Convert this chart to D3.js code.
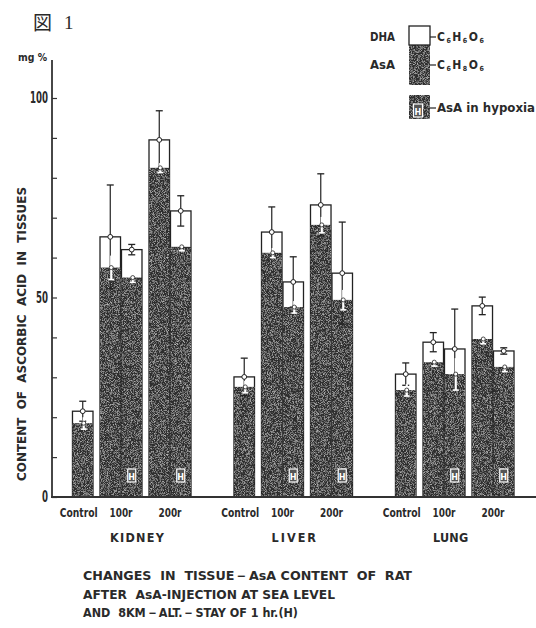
<!DOCTYPE html>
<html>
<head>
<meta charset="utf-8">
<script src="https://cdn.jsdelivr.net/npm/d3@7"></script>
<style>
  body { margin: 0; background: #fff; }
  svg text { font-family: "DejaVu Sans Condensed", "DejaVu Sans", sans-serif; font-weight: bold; fill: #2a2a2a; white-space: pre; }
</style>
</head>
<body>
<div id="chart"></div>
<script>
"use strict";
// data (mg %)
const tissues = ["KIDNEY", "LIVER", "LUNG"];
const doses = ["Control", "100r", "200r"];
const conditions = ["sea", "hyp"];
// bar order per tissue: Control, 100r sea, 100r hypoxia, 200r sea, 200r hypoxia
const barDose = ["Control", "100r", "100r", "200r", "200r"];
const barCond = ["hyp", "sea", "hyp", "sea", "hyp"];
const asaValues = [
  [18.5, 57.5, 55.0, 82.5, 62.7],
  [27.6, 61.2, 47.6, 68.2, 49.4],
  [26.8, 33.8, 30.8, 39.6, 32.6]
];
const totalValues = [
  [21.5, 65.2, 62.0, 89.5, 71.7],
  [30.1, 66.4, 53.9, 73.2, 56.1],
  [30.8, 38.8, 37.1, 47.9, 36.6]
];
const totalErrTop = [
  [24.0, 78.2, 63.3, 96.8, 75.5],
  [34.8, 72.7, 60.2, 81.0, 68.9],
  [33.6, 41.2, 47.1, 50.1, 37.4]
];
const asaErr = [
  [1.5, 3.0, 1.2, 1.2, 1.0],
  [1.5, 1.2, 1.5, 2.0, 2.5],
  [1.5, 1.0, 4.0, 1.2, 1.2]
];
const yTicks = [0, 10, 20, 30, 40, 50, 60, 70, 80, 90, 100];
const yLabelTicks = [0, 50, 100];
const captionLines = [
  "CHANGES  IN  TISSUE－AsA CONTENT  OF  RAT",
  "AFTER  AsA-INJECTION AT SEA LEVEL",
  "AND  8KM－ALT.－STAY OF 1 hr.(H)"
];

const width = 536, height = 628;
const dark = "#2f2f2f";

const svg = d3.select("#chart").append("svg")
  .attr("width", width)
  .attr("height", height);

// grainy print look for the dark fill
const defs = svg.append("defs");
const grain = defs.append("filter").attr("id", "grain")
  .attr("x", 0).attr("y", 0).attr("width", 1).attr("height", 1);
grain.append("feTurbulence").attr("type", "fractalNoise")
  .attr("baseFrequency", 1.3).attr("numOctaves", 2).attr("seed", 4).attr("result", "n");
grain.append("feColorMatrix").attr("in", "n").attr("type", "matrix")
  .attr("values", "0 0 0 0 0.75  0 0 0 0 0.75  0 0 0 0 0.75  1.6 0 0 0 -0.72").attr("result", "speck");
grain.append("feComposite").attr("in", "speck").attr("in2", "SourceGraphic")
  .attr("operator", "in").attr("result", "s2");
const merge = grain.append("feMerge");
merge.append("feMergeNode").attr("in", "SourceGraphic");
merge.append("feMergeNode").attr("in", "s2");

// scales
const y = d3.scaleLinear().domain([0, 100]).range([497, 98]);
const xTissue = d3.scaleBand().domain(tissues).range([51, 535.5]);
const xDose = d3.scaleBand().domain(doses).range([0, 140]).paddingInner(0.143);
const xCond = d3.scaleBand().domain(conditions).range([0, xDose.bandwidth()]).paddingInner(0.045);

const barX = (t, i) => xTissue(tissues[t]) + xDose(barDose[i]) + xCond(barCond[i]);
const bw = xCond.bandwidth();

const bars = [];
tissues.forEach((tissue, t) => {
  barDose.forEach((dose, i) => {
    bars.push({
      t, i, tissue, dose, cond: barCond[i],
      asa: asaValues[t][i], total: totalValues[t][i],
      errTop: totalErrTop[t][i], asaErr: asaErr[t][i],
      x: barX(t, i)
    });
  });
});

// title
svg.append("text").attr("x", 33).attr("y", 30)
  .style("font-family", "'Noto Sans CJK JP'").style("font-weight", "normal")
  .style("font-size", "19px").text("図");
svg.append("text").attr("x", 64).attr("y", 29)
  .style("font-family", "'Liberation Serif'").style("font-weight", "normal")
  .style("font-size", "19px").text("1");
svg.append("text").attr("x", 18).attr("y", 61)
  .style("font-size", "10px").attr("textLength", 29).attr("lengthAdjust", "spacingAndGlyphs").text("mg %");

// bars: white (total) box, dark AsA fill
const g = svg.append("g");
g.selectAll("rect.total").data(bars).enter().append("rect")
  .attr("class", "total")
  .attr("x", d => d.x).attr("width", bw)
  .attr("y", d => y(d.total)).attr("height", d => y(0) - y(d.total))
  .attr("fill", "#fff").attr("stroke", "#222").attr("stroke-width", 1.3);
g.selectAll("rect.asa").data(bars).enter().append("rect")
  .attr("class", "asa")
  .attr("x", d => d.x).attr("width", bw)
  .attr("y", d => y(d.asa)).attr("height", d => y(0) - y(d.asa))
  .attr("fill", dark).attr("filter", "url(#grain)");

// error bars on total
const eb = g.selectAll("g.err").data(bars).enter().append("g").attr("class", "err");
eb.append("line")
  .attr("x1", d => d.x + bw / 2).attr("x2", d => d.x + bw / 2)
  .attr("y1", d => y(d.errTop)).attr("y2", d => y(2 * d.total - d.errTop))
  .attr("stroke", "#222").attr("stroke-width", 1.2);
eb.append("line")
  .attr("x1", d => d.x + bw / 2 - 3.5).attr("x2", d => d.x + bw / 2 + 3.5)
  .attr("y1", d => y(d.errTop)).attr("y2", d => y(d.errTop))
  .attr("stroke", "#222").attr("stroke-width", 1.3);
eb.append("line")
  .attr("x1", d => d.x + bw / 2 - 3.5).attr("x2", d => d.x + bw / 2 + 3.5)
  .attr("y1", d => y(2 * d.total - d.errTop)).attr("y2", d => y(2 * d.total - d.errTop))
  .attr("stroke", "#222").attr("stroke-width", 1.3);
eb.append("circle")
  .attr("cx", d => d.x + bw / 2).attr("cy", d => y(d.total)).attr("r", 2.4)
  .attr("fill", "#fff").attr("stroke", "#222").attr("stroke-width", 1);

// small AsA markers
const am = g.selectAll("g.asaMark").data(bars).enter().append("g").attr("class", "asaMark");
am.append("line")
  .attr("x1", d => d.x + bw / 2 + 1).attr("x2", d => d.x + bw / 2 + 1)
  .attr("y1", d => y(d.asa + d.asaErr)).attr("y2", d => y(d.asa - d.asaErr))
  .attr("stroke", "#fff").attr("stroke-width", 2.2);
am.append("line")
  .attr("x1", d => d.x + bw / 2 - 2).attr("x2", d => d.x + bw / 2 + 4)
  .attr("y1", d => y(d.asa - d.asaErr)).attr("y2", d => y(d.asa - d.asaErr))
  .attr("stroke", "#fff").attr("stroke-width", 1.6);
am.append("circle")
  .attr("cx", d => d.x + bw / 2 + 1).attr("cy", d => y(d.asa)).attr("r", 2)
  .attr("fill", "#fff").attr("stroke", "#222").attr("stroke-width", 0.8);

// H marks on hypoxia bars
const hb = g.selectAll("g.hmark").data(bars.filter(d => d.dose !== "Control" && d.cond === "hyp"))
  .enter().append("g").attr("class", "hmark");
hb.append("rect")
  .attr("x", d => d.x + bw / 2 - 4).attr("y", y(0) - 28).attr("width", 8).attr("height", 13)
  .attr("fill", "#555").attr("stroke", "#fff").attr("stroke-width", 1.2);
hb.append("text")
  .attr("x", d => d.x + bw / 2).attr("y", y(0) - 17.5)
  .attr("text-anchor", "middle").style("font-size", "9px").style("fill", "#fff").text("H");

// axes
const yAxis = d3.axisLeft(y).tickValues(yTicks)
  .tickSizeInner(-5).tickSizeOuter(0).tickPadding(4)
  .tickFormat(d => yLabelTicks.includes(d) ? d : "");
const ax = svg.append("g").attr("transform", "translate(52,0)").call(yAxis);
ax.select(".domain").remove();
ax.selectAll(".tick line").attr("stroke", "#333").attr("stroke-width", 1.2);
ax.selectAll(".tick text")
  .style("font-family", "'DejaVu Sans Condensed', sans-serif").style("font-weight", "bold")
  .style("font-size", "15px").attr("fill", "#2a2a2a")
  .attr("textLength", d => String(d).length * 6).attr("lengthAdjust", "spacingAndGlyphs");
svg.append("line").attr("x1", 52).attr("x2", 52).attr("y1", 60).attr("y2", y(0) + 1)
  .attr("stroke", "#333").attr("stroke-width", 1.8);
svg.append("line").attr("x1", 51).attr("x2", 536).attr("y1", y(0)).attr("y2", y(0))
  .attr("stroke", "#333").attr("stroke-width", 2);

// y title
svg.append("text")
  .attr("transform", "translate(26,334) rotate(-90)")
  .attr("text-anchor", "middle").style("font-size", "13px")
  .attr("textLength", 294).attr("lengthAdjust", "spacingAndGlyphs")
  .text("CONTENT  OF  ASCORBIC  ACID  IN  TISSUES");

// dose labels
const doseLabels = [];
tissues.forEach(tissue => doses.forEach(dose => doseLabels.push({ tissue, dose })));
svg.selectAll("text.dose").data(doseLabels).enter().append("text")
  .attr("class", "dose")
  .attr("x", d => d.dose === "Control"
    ? xTissue(d.tissue) + xDose(d.dose) + xCond("hyp") + bw / 2 - 4
    : xTissue(d.tissue) + xDose(d.dose) + xDose.bandwidth() / 2)
  .attr("y", 517).attr("text-anchor", "middle").style("font-size", "13px")
  .attr("textLength", d => d.dose === "Control" ? 38 : 23).attr("lengthAdjust", "spacingAndGlyphs")
  .text(d => d.dose);

// tissue labels
svg.selectAll("text.tissue").data(tissues).enter().append("text")
  .attr("class", "tissue")
  .attr("x", d => xTissue(d) + 59).attr("y", 542)
  .style("font-size", "12.5px").attr("textLength", d => d.length * 9.3 - 2)
  .text(d => d);

// caption
const capWidths = [329, 252, 215];
svg.selectAll("text.cap").data(captionLines).enter().append("text")
  .attr("class", "cap")
  .attr("x", 83).attr("y", (d, i) => 580 + i * 18.5)
  .style("font-size", "12.5px").attr("textLength", (d, i) => capWidths[i])
  .attr("lengthAdjust", "spacingAndGlyphs")
  .text(d => d);

// legend
const lg = svg.append("g");
lg.append("rect").attr("x", 409).attr("y", 45).attr("width", 21).attr("height", 40)
  .attr("fill", dark).attr("filter", "url(#grain)");
lg.append("rect").attr("x", 409).attr("y", 26).attr("width", 21).attr("height", 19)
  .attr("fill", "#fff").attr("stroke", "#222").attr("stroke-width", 1.3);
lg.append("rect").attr("x", 409).attr("y", 95).attr("width", 21).attr("height", 24)
  .attr("fill", dark).attr("filter", "url(#grain)");
lg.append("rect").attr("x", 413.5).attr("y", 104).attr("width", 9).attr("height", 13)
  .attr("fill", "#555").attr("stroke", "#fff").attr("stroke-width", 1.2);
lg.append("text").attr("x", 418).attr("y", 114.5).attr("text-anchor", "middle")
  .style("font-size", "9px").style("fill", "#fff").text("H");

const legendRows = [
  { label: "DHA", yPos: 41, formula: ["C", "6", "H", "6", "O", "6"] },
  { label: "AsA", yPos: 69, formula: ["C", "6", "H", "8", "O", "6"] }
];
legendRows.forEach(r => {
  lg.append("text").attr("x", 370).attr("y", r.yPos).style("font-size", "12px")
    .attr("textLength", 25).attr("lengthAdjust", "spacingAndGlyphs").text(r.label);
  lg.append("line").attr("x1", 430).attr("x2", 436).attr("y1", r.yPos - 4).attr("y2", r.yPos - 4)
    .attr("stroke", "#222").attr("stroke-width", 1.2);
  const ft = lg.append("text").attr("x", 437).attr("y", r.yPos).style("font-size", "12px");
  r.formula.forEach((s, k) => {
    ft.append("tspan").text(s)
      .attr("dy", k % 2 ? 2 : (k ? -2 : 0))
      .style("font-size", k % 2 ? "7px" : "12px")
      .attr("dx", k ? 1.5 : 0);
  });
});
lg.append("line").attr("x1", 430).attr("x2", 436).attr("y1", 108).attr("y2", 108)
  .attr("stroke", "#222").attr("stroke-width", 1.2);
lg.append("text").attr("x", 437).attr("y", 112).style("font-size", "12.5px")
  .attr("textLength", 98).attr("lengthAdjust", "spacingAndGlyphs").text("AsA in hypoxia");
</script>
</body>
</html>
